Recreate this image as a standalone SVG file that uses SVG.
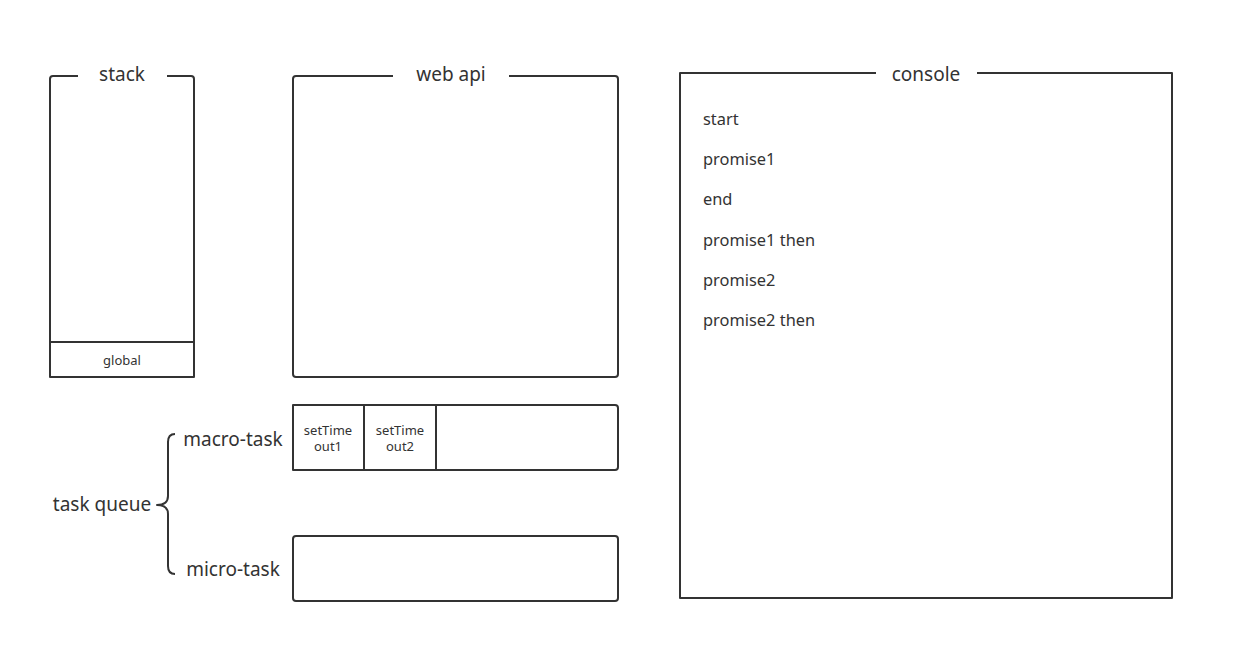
<svg xmlns="http://www.w3.org/2000/svg" width="1235" height="663" viewBox="0 0 1235 663">
<style>
.box{fill:none;stroke:#333;stroke-width:2;stroke-linejoin:round}
.t{font-family:"Noto Sans","Open Sans",sans-serif;fill:#333}
.lbl{font-size:19px;text-anchor:middle}
.sm{font-size:13px;text-anchor:middle}
.con{font-size:16.4px}
</style>
<rect width="1235" height="663" fill="#fff"/>
<g id="stack">
<path class="box" d="M78,76 L53,76 Q50,76 50,79 L50,377 L194,377 L194,79 Q194,76 191,76 L167,76"/>
<line class="box" x1="50" y1="342" x2="194" y2="342"/>
<text class="t lbl" x="122" y="81">stack</text>
<text class="t sm" x="122" y="365">global</text>
</g>
<g id="webapi">
<path class="box" d="M393,76 L296,76 Q293,76 293,79 L293,374 Q293,377 296,377 L615,377 Q618,377 618,374 L618,79 Q618,76 615,76 L509,76"/>
<text class="t lbl" x="451" y="81">web api</text>
</g>
<g id="console">
<path class="box" stroke-linejoin="miter" d="M876,73 L680,73 L680,598 L1172,598 L1172,73 L977,73"/>
<text class="t lbl" x="926" y="81">console</text>
<text class="t con" x="703" y="125">start</text>
<text class="t con" x="703" y="165">promise1</text>
<text class="t con" x="703" y="205">end</text>
<text class="t con" x="703" y="246">promise1 then</text>
<text class="t con" x="703" y="286">promise2</text>
<text class="t con" x="703" y="326">promise2 then</text>
</g>
<g id="macrotask">
<path class="box" d="M293,405 L615,405 Q618,405 618,408 L618,467 Q618,470 615,470 L293,470 Z"/>
<line class="box" x1="364" y1="405" x2="364" y2="470"/>
<line class="box" x1="436" y1="405" x2="436" y2="470"/>
<text class="t sm" x="328" y="435">setTime</text>
<text class="t sm" x="328" y="451">out1</text>
<text class="t sm" x="400" y="435">setTime</text>
<text class="t sm" x="400" y="451">out2</text>
<text class="t lbl" x="233" y="446">macro-task</text>
</g>
<g id="microtask">
<rect class="box" x="293" y="536" width="325" height="65" rx="3"/>
<text class="t lbl" x="233" y="576">micro-task</text>
</g>
<g id="taskqueue">
<text class="t lbl" x="102" y="511">task queue</text>
</g>
<g id="connectors">
<path class="box" d="M175,434 Q168,434 168,442 L168,496 Q168,505 157,505 Q168,505 168,514 L168,566 Q168,574 175,574"/>
</g>
</svg>
